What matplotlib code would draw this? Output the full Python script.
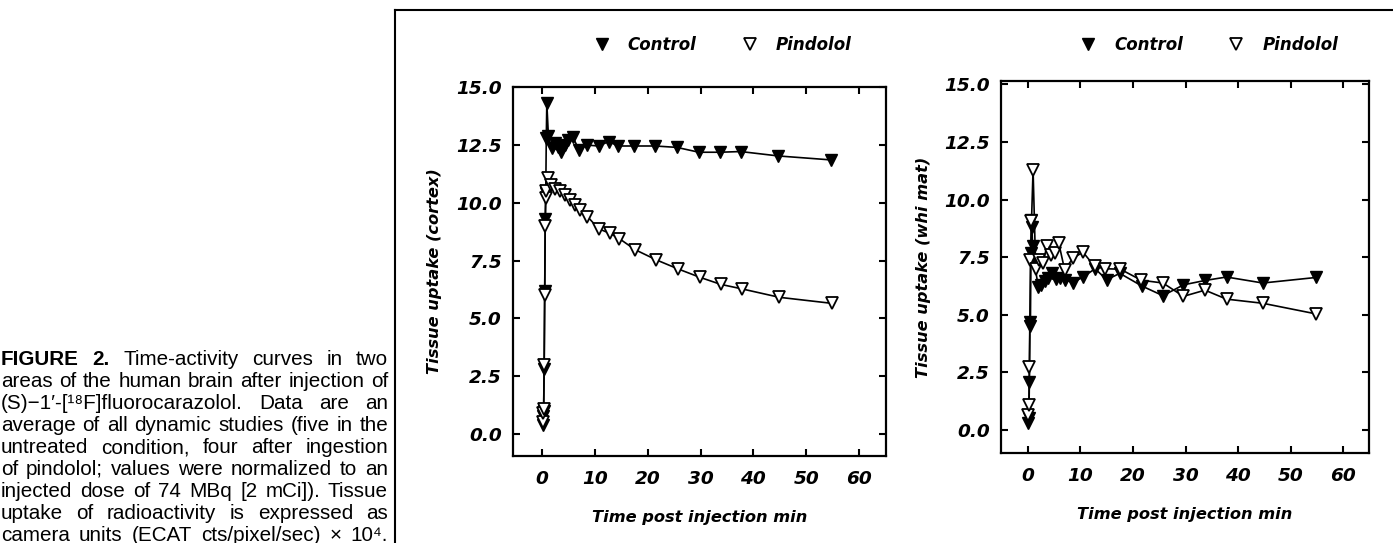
import matplotlib
matplotlib.use("Agg")
import matplotlib.pyplot as plt
from matplotlib.lines import Line2D

W, H = 1393, 543

# --- cortex (left panel) ---
cortex_control_t = [0.1, 0.2, 0.3, 0.4, 0.5, 0.6, 0.7, 0.8, 0.9,
                    1.2, 1.8, 2.4, 3.0, 3.6, 4.3, 5.0, 5.8,
                    7.0, 8.5, 10.7, 12.6, 14.4, 17.4, 21.4, 25.5, 29.7, 33.6, 37.6, 44.7, 54.6]
cortex_control_v = [0.4, 0.8, 1.0, 2.8, 6.2, 9.3, 10.4, 12.8, 14.3,
                    12.9, 12.35, 12.6, 12.4, 12.2, 12.5, 12.7, 12.85,
                    12.28, 12.49, 12.45, 12.64, 12.45, 12.45, 12.45, 12.39, 12.18, 12.18, 12.21, 12.02, 11.85]

cortex_pindolol_t = [0.1, 0.2, 0.3, 0.4, 0.5, 0.6, 0.7, 0.8, 1.1,
                     1.6, 2.5, 3.4, 4.4, 5.3, 6.2, 7.2, 8.6,
                     10.7, 12.8, 14.6, 17.6, 21.6, 25.7, 29.8, 33.8, 37.9, 44.9, 54.8]
cortex_pindolol_v = [0.5, 0.9, 1.1, 3.0, 6.0, 9.0, 10.2, 10.5, 11.05,
                     10.75, 10.6, 10.5, 10.33, 10.12, 9.9, 9.68, 9.4,
                     8.87, 8.68, 8.45, 7.97, 7.53, 7.14, 6.78, 6.47, 6.27, 5.91, 5.65]

# --- white matter (right panel) ---
whimat_control_t = [0.1, 0.2, 0.3, 0.4, 0.5, 0.6, 0.7, 0.8, 0.9,
                    1.3, 2.0, 2.6, 3.2, 3.9, 4.6, 5.3, 6.1,
                    7.0, 8.6, 10.5, 12.8, 15.0, 17.5, 21.7, 25.7, 29.6, 33.7, 37.8, 44.7, 54.8]
whimat_control_v = [0.3, 0.5, 2.1, 4.5, 4.7, 7.7, 9.1, 8.8, 8.0,
                    7.2, 6.2, 6.3, 6.45, 6.6, 6.8, 6.55, 6.6,
                    6.52, 6.4, 6.64, 7.0, 6.52, 6.8, 6.25, 5.83, 6.3, 6.49, 6.64, 6.38, 6.62]

whimat_pindolol_t = [0.1, 0.2, 0.3, 0.5, 0.7, 1.0,
                     1.5, 2.2, 2.9, 3.6, 4.4, 5.2, 5.9,
                     7.0, 8.6, 10.5, 12.7, 14.6, 17.6, 21.6, 25.7, 29.6, 33.7, 37.8, 44.7, 54.8]
whimat_pindolol_v = [0.65, 1.1, 2.75, 7.4, 9.06, 11.3,
                     7.0, 7.4, 7.25, 7.97, 7.6, 7.68, 8.1,
                     6.96, 7.46, 7.72, 7.1, 7.0, 6.98, 6.5, 6.38, 5.8, 6.07, 5.68, 5.5, 5.04]

x_ticks = [0, 10, 20, 30, 40, 50, 60]
y_ticks = [0.0, 2.5, 5.0, 7.5, 10.0, 12.5, 15.0]

caption = [
    "FIGURE 2. Time-activity curves in two",
    "areas of the human brain after injection of",
    "(S)\u22121\u2032-[\u00b9\u2078F]fluorocarazolol. Data are an",
    "average of all dynamic studies (five in the",
    "untreated condition, four after ingestion",
    "of pindolol; values were normalized to an",
    "injected dose of 74 MBq [2 mCi]). Tissue",
    "uptake of radioactivity is expressed as",
    "camera units (ECAT cts/pixel/sec) \u00d7 10\u2074.",
]

plt.rcParams['font.family'] = 'DejaVu Sans'
plt.rcParams['font.style'] = 'italic'
plt.rcParams['font.weight'] = 'bold'
plt.rcParams['axes.labelweight'] = 'bold'

fig = plt.figure(figsize=(W / 100, H / 100), dpi=100)


def px_axes(left, top, right, bottom):
    return fig.add_axes([left / W, 1 - bottom / H, (right - left) / W, (bottom - top) / H])


def draw_panel(ax, ctrl_t, ctrl_v, pind_t, pind_v, ylabel, xlim, ylim, leg_y):
    ax.plot(ctrl_t, ctrl_v, color='black', lw=1.2, marker='v', ms=8,
            mfc='black', mec='black', zorder=3)
    ax.plot(pind_t, pind_v, color='black', lw=1.2, marker='v', ms=8,
            mfc='white', mec='black', mew=1.3, zorder=4)
    ax.set_xlim(*xlim)
    ax.set_ylim(*ylim)
    ax.set_xticks(x_ticks)
    ax.set_yticks(y_ticks)
    ax.set_yticklabels([f"{v:.1f}" for v in y_ticks])
    ax.tick_params(direction='in', length=5, width=1.5, top=True, right=True,
                   labelsize=13.3)
    ax.tick_params(axis='x', pad=10)
    ax.tick_params(axis='y', pad=8)
    for sp in ax.spines.values():
        sp.set_linewidth(1.6)
    ax.set_ylabel(ylabel, fontsize=11.7, fontweight='bold')
    ax.yaxis.set_label_coords(-0.19, 0.5)
    ax.set_xlabel("Time post injection min", fontsize=11.7, fontweight='bold')
    ax.xaxis.set_label_coords(0.5, -0.145)
    ax.xaxis.label.set_va('top')

    handles = [Line2D([], [], ls='none', marker='v', ms=8, mfc='black', mec='black'),
               Line2D([], [], ls='none', marker='v', ms=8, mfc='white', mec='black', mew=1.3)]
    ax.legend(handles, ["Control", "Pindolol"], ncol=2, loc='center left',
              bbox_to_anchor=(0.215, leg_y), frameon=False, borderpad=0, borderaxespad=0,
              handlelength=1.0, handletextpad=1.05, columnspacing=2.7,
              prop={'size': 12, 'style': 'italic', 'weight': 'bold'})


ax1 = px_axes(513, 87, 886, 456)
draw_panel(ax1, cortex_control_t, cortex_control_v, cortex_pindolol_t, cortex_pindolol_v,
           "Tissue uptake (cortex)", (-5.5, 65.1), (-0.95, 15.0), 1.114)

ax2 = px_axes(1001, 81, 1369, 453)
draw_panel(ax2, whimat_control_t, whimat_control_v, whimat_pindolol_t, whimat_pindolol_v,
           "Tissue uptake (whi mat)", (-5.1, 64.9), (-1.0, 15.15), 1.097)

# frame around the figure area
fig.add_artist(Line2D([395 / W, 1], [1 - 10 / H, 1 - 10 / H], transform=fig.transFigure,
                      color='black', lw=1.5))
fig.add_artist(Line2D([395 / W, 395 / W], [0, 1 - 10 / H], transform=fig.transFigure,
                      color='black', lw=1.5))

# justified caption on the left
renderer = fig.canvas.get_renderer()
x0, x1 = 1, 388
base0, pitch = 365, 22.0
cap_family = ['Liberation Sans', 'DejaVu Sans']

# pick a font size so the widest line just fits the column
probe = fig.text(0, 0, "", fontsize=14, fontstyle='normal', fontweight='normal', family=cap_family)
widest = 0
for line in caption[1:]:
    probe.set_text(line)
    widest = max(widest, probe.get_window_extent(renderer).width)
probe.remove()
cap_size = min(14 * (x1 - x0 - 4) / widest, 16)

for i, line in enumerate(caption):
    y = 1 - (base0 + i * pitch) / H
    words = line.split(" ")
    texts = []
    for j, w in enumerate(words):
        bold = (i == 0 and j < 2)
        t = fig.text(0, y, w, fontsize=cap_size, fontstyle='normal',
                     fontweight='bold' if bold else 'normal',
                     family=cap_family, va='baseline', ha='left')
        texts.append(t)
    widths = [t.get_window_extent(renderer).width for t in texts]
    gap = (x1 - x0 - sum(widths)) / (len(texts) - 1)
    x = x0
    for t, w in zip(texts, widths):
        t.set_x(x / W)
        x += w + gap

fig.savefig("out.png", dpi=100)
